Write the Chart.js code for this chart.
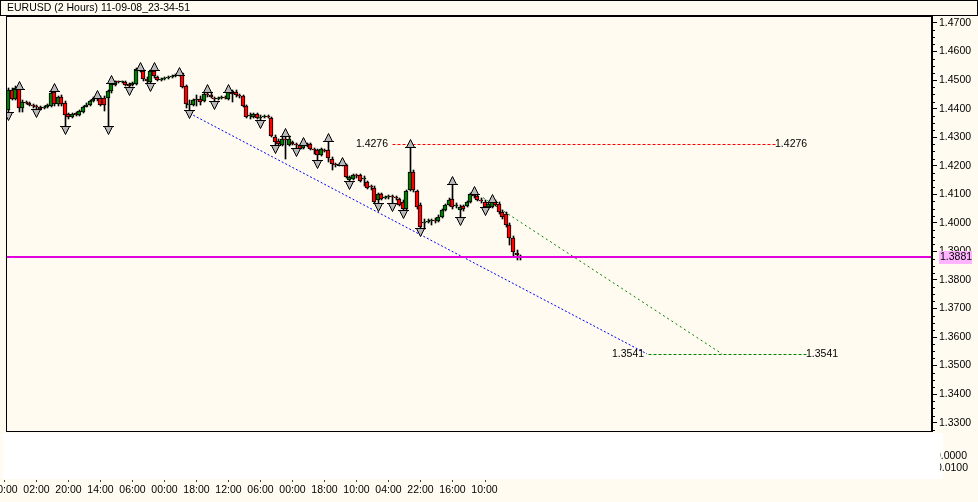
<!DOCTYPE html>
<html>
<head>
<meta charset="utf-8">
<title>EURUSD (2 Hours)</title>
<script src="https://cdn.jsdelivr.net/npm/chart.js@4.4.1/dist/chart.umd.min.js"></script>
<style>
  html, body { margin: 0; padding: 0; background: #fffbf0; }
  #wrap { width: 978px; height: 502px; }
</style>
</head>
<body>
<div id="wrap"><canvas id="chart"></canvas></div>
<script>
// ---------- data ----------
const title = "EURUSD (2 Hours) 11-09-08_23-34-51";

const opens = [
  1.4396, 1.4466, 1.4434, 1.4476, 1.4403, 1.4424, 1.4420, 1.4413, 1.4410, 1.4406,
  1.4403, 1.4406, 1.4410, 1.4459, 1.4417, 1.4441, 1.4420, 1.4382, 1.4371, 1.4385,
  1.4378, 1.4389, 1.4406, 1.4413, 1.4427, 1.4434, 1.4438, 1.4438, 1.4438, 1.4462,
  1.4483, 1.4497, 1.4494, 1.4494, 1.4487, 1.4483, 1.4487, 1.4539, 1.4532, 1.4504,
  1.4494, 1.4532, 1.4511, 1.4501, 1.4504, 1.4508, 1.4511, 1.4515, 1.4518, 1.4525,
  1.4480, 1.4413, 1.4413, 1.4431, 1.4434, 1.4427, 1.4452, 1.4448, 1.4438, 1.4434,
  1.4438, 1.4441, 1.4434, 1.4462, 1.4459, 1.4448, 1.4445, 1.4410, 1.4375, 1.4371,
  1.4382, 1.4368, 1.4371, 1.4375, 1.4368, 1.4301, 1.4287, 1.4273, 1.4294, 1.4273,
  1.4284, 1.4277, 1.4273, 1.4263, 1.4273, 1.4277, 1.4259, 1.4256, 1.4238, 1.4256,
  1.4256, 1.4224, 1.4207, 1.4203, 1.4207, 1.4203, 1.4151, 1.4154, 1.4168, 1.4168,
  1.4154, 1.4144, 1.4130, 1.4123, 1.4081, 1.4102, 1.4088, 1.4091, 1.4095, 1.4091,
  1.4084, 1.4074, 1.4049, 1.4116, 1.4179, 1.4112, 1.4063, 1.4000, 1.4004, 1.4007,
  1.4011, 1.4007, 1.4021, 1.4046, 1.4063, 1.4084, 1.4060, 1.4046, 1.4060, 1.4060,
  1.4074, 1.4102, 1.4095, 1.4081, 1.4074, 1.4056, 1.4056, 1.4077, 1.4067, 1.4039,
  1.4032, 1.3993, 1.3948, 1.3895, 1.3885
];
const highs = [
  1.4473, 1.4473, 1.4480, 1.4480, 1.4431, 1.4427, 1.4424, 1.4417, 1.4413, 1.4410,
  1.4410, 1.4417, 1.4466, 1.4473, 1.4445, 1.4448, 1.4427, 1.4385, 1.4385, 1.4389,
  1.4396, 1.4410, 1.4420, 1.4431, 1.4441, 1.4448, 1.4445, 1.4445, 1.4466, 1.4501,
  1.4497, 1.4497, 1.4497, 1.4497, 1.4490, 1.4494, 1.4543, 1.4546, 1.4536, 1.4511,
  1.4536, 1.4546, 1.4515, 1.4508, 1.4511, 1.4515, 1.4518, 1.4522, 1.4529, 1.4525,
  1.4483, 1.4431, 1.4434, 1.4448, 1.4445, 1.4459, 1.4469, 1.4455, 1.4441, 1.4441,
  1.4445, 1.4445, 1.4469, 1.4466, 1.4466, 1.4452, 1.4448, 1.4413, 1.4385, 1.4385,
  1.4385, 1.4378, 1.4378, 1.4378, 1.4371, 1.4308, 1.4294, 1.4301, 1.4315, 1.4305,
  1.4287, 1.4280, 1.4277, 1.4284, 1.4280, 1.4280, 1.4263, 1.4259, 1.4263, 1.4259,
  1.4298, 1.4231, 1.4210, 1.4210, 1.4214, 1.4207, 1.4165, 1.4172, 1.4172, 1.4172,
  1.4165, 1.4147, 1.4133, 1.4130, 1.4105, 1.4105, 1.4095, 1.4098, 1.4098, 1.4095,
  1.4088, 1.4081, 1.4116, 1.4276, 1.4186, 1.4116, 1.4070, 1.4014, 1.4014, 1.4014,
  1.4018, 1.4028, 1.4049, 1.4067, 1.4088, 1.4147, 1.4070, 1.4063, 1.4063, 1.4077,
  1.4105, 1.4112, 1.4098, 1.4088, 1.4081, 1.4070, 1.4084, 1.4081, 1.4074, 1.4046,
  1.4039, 1.4000, 1.3955, 1.3906, 1.3888
];
const lows = [
  1.4378, 1.4431, 1.4431, 1.4389, 1.4389, 1.4417, 1.4410, 1.4403, 1.4389, 1.4396,
  1.4399, 1.4403, 1.4406, 1.4410, 1.4410, 1.4410, 1.4329, 1.4364, 1.4368, 1.4375,
  1.4375, 1.4385, 1.4406, 1.4410, 1.4424, 1.4427, 1.4410, 1.4392, 1.4329, 1.4455,
  1.4480, 1.4490, 1.4490, 1.4480, 1.4466, 1.4480, 1.4483, 1.4529, 1.4497, 1.4490,
  1.4480, 1.4508, 1.4497, 1.4497, 1.4501, 1.4504, 1.4508, 1.4511, 1.4515, 1.4473,
  1.4403, 1.4385, 1.4410, 1.4410, 1.4413, 1.4424, 1.4441, 1.4438, 1.4417, 1.4431,
  1.4434, 1.4434, 1.4431, 1.4424, 1.4441, 1.4438, 1.4406, 1.4368, 1.4364, 1.4368,
  1.4364, 1.4350, 1.4368, 1.4368, 1.4301, 1.4263, 1.4270, 1.4270, 1.4224, 1.4270,
  1.4273, 1.4252, 1.4259, 1.4259, 1.4266, 1.4256, 1.4242, 1.4210, 1.4235, 1.4249,
  1.4214, 1.4186, 1.4196, 1.4200, 1.4200, 1.4158, 1.4137, 1.4151, 1.4158, 1.4144,
  1.4130, 1.4119, 1.4116, 1.4070, 1.4060, 1.4081, 1.4084, 1.4084, 1.4060, 1.4081,
  1.4060, 1.4035, 1.4046, 1.4112, 1.4109, 1.4049, 1.3972, 1.3979, 1.4000, 1.3993,
  1.4000, 1.4004, 1.4018, 1.4042, 1.4060, 1.4049, 1.4053, 1.4011, 1.4042, 1.4056,
  1.4070, 1.4088, 1.4077, 1.4070, 1.4046, 1.4049, 1.4053, 1.4060, 1.4032, 1.4014,
  1.3986, 1.3923, 1.3885, 1.3871, 1.3871
];
const closes = [
  1.4466, 1.4434, 1.4473, 1.4403, 1.4424, 1.4420, 1.4413, 1.4410, 1.4406, 1.4399,
  1.4406, 1.4413, 1.4455, 1.4417, 1.4441, 1.4417, 1.4378, 1.4371, 1.4382, 1.4378,
  1.4392, 1.4406, 1.4413, 1.4427, 1.4434, 1.4438, 1.4413, 1.4413, 1.4462, 1.4487,
  1.4497, 1.4494, 1.4497, 1.4483, 1.4480, 1.4490, 1.4539, 1.4532, 1.4504, 1.4497,
  1.4532, 1.4515, 1.4501, 1.4504, 1.4508, 1.4511, 1.4515, 1.4518, 1.4522, 1.4476,
  1.4417, 1.4417, 1.4431, 1.4434, 1.4424, 1.4452, 1.4448, 1.4441, 1.4434, 1.4438,
  1.4441, 1.4438, 1.4462, 1.4452, 1.4448, 1.4445, 1.4410, 1.4371, 1.4378, 1.4382,
  1.4368, 1.4371, 1.4375, 1.4371, 1.4305, 1.4284, 1.4277, 1.4294, 1.4291, 1.4294,
  1.4277, 1.4273, 1.4259, 1.4277, 1.4270, 1.4259, 1.4256, 1.4238, 1.4259, 1.4252,
  1.4228, 1.4207, 1.4203, 1.4207, 1.4203, 1.4161, 1.4161, 1.4168, 1.4165, 1.4147,
  1.4158, 1.4123, 1.4126, 1.4074, 1.4102, 1.4084, 1.4091, 1.4095, 1.4091, 1.4088,
  1.4063, 1.4049, 1.4112, 1.4179, 1.4116, 1.4056, 1.3986, 1.4004, 1.4007, 1.4011,
  1.4007, 1.4021, 1.4046, 1.4063, 1.4081, 1.4056, 1.4063, 1.4056, 1.4049, 1.4074,
  1.4102, 1.4095, 1.4081, 1.4077, 1.4056, 1.4067, 1.4074, 1.4063, 1.4039, 1.4021,
  1.3993, 1.3948, 1.3899, 1.3888, 1.3881
];

// bars carrying a fractal arrow (index into the arrays above)
const fractalUp = [3, 13, 25, 29, 37, 41, 48, 56, 62, 78, 83, 90, 94, 113, 125, 131, 136];
const fractalDown = [0, 8, 16, 28, 34, 40, 51, 58, 71, 75, 81, 87, 96, 104, 108, 111, 116, 127, 134];

// drawn objects (x in bar numbers)
const resistLevel = 1.4276;
const resistSpan = [108, 215.7];
const targetLevel = 1.3541;
const targetSpan = [180, 224.4];
const blueTrendX = [52.1, 179.7];
const blueTrendY = [1.4377, 1.3541];
const greenTrendX = [133.6, 200.8];
const greenTrendY = [1.4088, 1.3541];

// axes
const yTicks = [1.33, 1.34, 1.35, 1.36, 1.37, 1.38, 1.39, 1.40, 1.41, 1.42, 1.43, 1.44, 1.45, 1.46, 1.47];
const xTickBars = [-1, 8, 17, 26, 35, 44, 53, 62, 71, 80, 89, 98, 107, 116, 125, 134];
const xTickLabels = ["00:00", "02:00", "20:00", "14:00", "06:00", "00:00", "18:00", "12:00",
                     "06:00", "00:00", "18:00", "10:00", "04:00", "22:00", "16:00", "10:00"];
const subTicks = ["0.0000", "0.0100"];

// ---------- helpers ----------
const FAMILY = '"Liberation Sans", Arial, sans-serif';
const FONT = '10.5px ' + FAMILY;
const BG = '#fffbf0';
const BID = '#e000e0';

function arrowImage(up) {
  const c = document.createElement('canvas');
  c.width = 11; c.height = 11;
  const g = c.getContext('2d');
  g.fillStyle = '#b8b8b8';
  g.strokeStyle = '#000';
  g.lineWidth = 1;
  g.beginPath();
  if (up) { g.moveTo(5.5, 0.5); g.lineTo(9.5, 8.5); g.lineTo(1.5, 8.5); }
  else { g.moveTo(5.5, 10.5); g.lineTo(9.5, 2.5); g.lineTo(1.5, 2.5); }
  g.closePath();
  g.fill();
  g.stroke();
  const yb = up ? 8.5 : 2.5;
  g.beginPath();
  g.moveTo(0, yb); g.lineTo(11, yb);
  g.stroke();
  return c;
}
const upArrow = arrowImage(true);
const downArrow = arrowImage(false);

// keep the candles and level lines crisp like the terminal does
const snapPlugin = {
  id: 'snap',
  afterDatasetsUpdate(chart) {
    chart.data.datasets.forEach((ds, k) => {
      if (!ds.snap) return;
      chart.getDatasetMeta(k).data.forEach(el => {
        if (ds.snap === 'body') {
          el.x = Math.round(el.x);
          el.y = Math.round(el.y);
          el.base = Math.round(el.base);
        } else if (ds.snap === 'wick') {
          el.x = Math.round(el.x) + 0.5;
          el.y = Math.round(el.y);
          el.base = Math.round(el.base);
        } else {
          el.x = Math.round(el.x) + 0.5;
          el.y = Math.round(el.y) + 0.5;
        }
      });
    });
  }
};

const terminalPlugin = {
  id: 'terminal',
  beforeDraw(chart) {
    const { ctx, chartArea: a, width, height } = chart;
    ctx.save();
    ctx.fillStyle = BG;
    ctx.fillRect(0, 0, width, height);

    // empty indicator sub-window under the price pane
    ctx.fillStyle = '#ffffff';
    ctx.fillRect(3, a.bottom + 2, 940, 46);
    ctx.save();
    ctx.beginPath();
    ctx.rect(940, a.bottom, 38, 50);
    ctx.clip();
    ctx.fillStyle = '#000';
    ctx.font = FONT;
    ctx.textAlign = 'right';
    ctx.textBaseline = 'middle';
    ctx.fillText(subTicks[0], 967, a.bottom + 25);
    ctx.fillText(subTicks[1], 968, a.bottom + 37);
    ctx.restore();

    // title bar
    ctx.strokeStyle = '#000';
    ctx.lineWidth = 1;
    ctx.strokeRect(0.5, 0.5, 977, 15);
    ctx.fillStyle = '#000';
    ctx.font = FONT;
    ctx.textAlign = 'left';
    ctx.textBaseline = 'middle';
    ctx.fillText(title, 7, 8.5);
    ctx.restore();
  },
  afterDraw(chart) {
    const { ctx, chartArea: a, scales } = chart;
    const xs = scales.x, ys = scales.y;
    ctx.save();
    ctx.setLineDash([]);

    // bid line
    const last = closes[closes.length - 1];
    const py = Math.round(ys.getPixelForValue(last));
    ctx.fillStyle = BID;
    ctx.fillRect(a.left, py - 1, a.width, 2);

    // pane frame
    ctx.strokeStyle = '#000';
    ctx.lineWidth = 1;
    ctx.strokeRect(a.left + 0.5, a.top + 0.5, a.width, a.height);
    ctx.beginPath();
    ctx.moveTo(a.right - 0.5, a.top);
    ctx.lineTo(a.right - 0.5, a.bottom);
    ctx.stroke();

    // minor price ticks
    ctx.beginPath();
    for (let k = Math.ceil(ys.min / 0.0025); k * 0.0025 <= ys.max; k++) {
      if (k % 4 === 0) continue;
      const p = Math.round(ys.getPixelForValue(k * 0.0025)) + 0.5;
      ctx.moveTo(a.right, p);
      ctx.lineTo(a.right + 3, p);
    }
    ctx.stroke();

    // time ticks under the sub-window
    ctx.strokeStyle = '#404040';
    ctx.beginPath();
    xTickBars.forEach(v => {
      const p = Math.round(xs.getPixelForValue(v)) + 0.5;
      ctx.moveTo(p, a.bottom + 49);
      ctx.lineTo(p, a.bottom + 51);
    });
    ctx.stroke();

    // price labels of the horizontal levels
    ctx.font = FONT;
    ctx.fillStyle = '#000';
    ctx.textBaseline = 'middle';
    [[resistLevel, resistSpan], [targetLevel, targetSpan]].forEach(([lv, span]) => {
      const y = Math.round(ys.getPixelForValue(lv)) + 0.5;
      ctx.textAlign = 'right';
      ctx.fillText(lv.toFixed(4), xs.getPixelForValue(span[0]) - 4, y);
      ctx.textAlign = 'left';
      ctx.fillText(lv.toFixed(4), xs.getPixelForValue(span[1]), y);
    });

    // current bid label on the price scale
    ctx.fillStyle = '#ffb4ff';
    ctx.fillRect(a.right + 7, py - 6, 33, 13);
    ctx.fillStyle = '#000';
    ctx.textAlign = 'left';
    ctx.fillText(last.toFixed(4), a.right + 8, py + 0.5);
    ctx.restore();
  }
};

// ---------- chart ----------
const lineSet = (xs, ys, color, dash, snap) => ({
  type: 'line',
  data: xs.map((x, i) => ({ x, y: ys[i] })),
  borderColor: color,
  borderWidth: 1,
  borderDash: dash,
  pointRadius: 0,
  fill: false,
  order: 3,
  snap: snap
});

new Chart(document.getElementById('chart'), {
  type: 'bar',
  data: {
    datasets: [
      {
        label: 'Fractals up',
        type: 'line',
        data: fractalUp.map(i => ({ x: i, y: highs[i] })),
        showLine: false,
        pointStyle: upArrow,
        pointRadius: 5,
        order: 0,
        snap: 'point'
      },
      {
        label: 'Fractals down',
        type: 'line',
        data: fractalDown.map(i => ({ x: i, y: lows[i] })),
        showLine: false,
        pointStyle: downArrow,
        pointRadius: 5,
        order: 0,
        snap: 'point'
      },
      {
        label: 'body',
        data: opens.map((o, i) => ({ x: i, y: [o, closes[i]] })),
        backgroundColor: opens.map((o, i) => closes[i] >= o ? '#008000' : '#ff0000'),
        borderColor: '#000',
        borderWidth: 1,
        borderSkipped: false,
        barThickness: 4,
        minBarLength: 1,
        grouped: false,
        order: 1,
        snap: 'body'
      },
      {
        label: 'wick',
        data: lows.map((l, i) => ({ x: i, y: [l, highs[i]] })),
        backgroundColor: '#000',
        borderWidth: 0,
        barThickness: 1,
        grouped: false,
        order: 2,
        snap: 'wick'
      },
      lineSet(resistSpan, [resistLevel, resistLevel], '#ff0000', [3, 2], 'point'),
      lineSet(targetSpan, [targetLevel, targetLevel], '#008000', [3, 2], 'point'),
      lineSet(blueTrendX, blueTrendY, '#0000ff', [2, 2]),
      lineSet(greenTrendX, greenTrendY, '#008000', [2, 3])
    ]
  },
  options: {
    responsive: true,
    maintainAspectRatio: false,
    animation: false,
    events: [],
    layout: { padding: { left: 6, top: 16, right: 0, bottom: 0 } },
    plugins: {
      legend: { display: false },
      tooltip: { enabled: false }
    },
    scales: {
      x: {
        type: 'linear',
        min: -0.56,
        max: 259.84,
        offset: false,
        afterBuildTicks: s => { s.ticks = xTickBars.map(v => ({ value: v })); },
        afterFit: s => { s.height = 71; s.paddingLeft = 0; s.paddingRight = 0; },
        grid: { display: false, drawTicks: false },
        border: { display: false },
        ticks: {
          autoSkip: false,
          maxRotation: 0,
          padding: 53,
          color: '#000',
          font: { family: FAMILY, size: 10.5 },
          callback: (v, i) => xTickLabels[i]
        }
      },
      y: {
        position: 'right',
        min: 1.32709,
        max: 1.47245,
        afterBuildTicks: s => { s.ticks = yTicks.map(v => ({ value: v })); },
        afterFit: s => { s.width = 46; s.paddingTop = 0; s.paddingBottom = 0; },
        grid: { drawOnChartArea: false, drawTicks: true, tickLength: 5, tickColor: '#000' },
        border: { display: false },
        ticks: {
          padding: 2,
          color: '#000',
          font: { family: FAMILY, size: 10.5 },
          callback: v => v.toFixed(4)
        }
      }
    }
  },
  plugins: [snapPlugin, terminalPlugin]
});
</script>
</body>
</html>
